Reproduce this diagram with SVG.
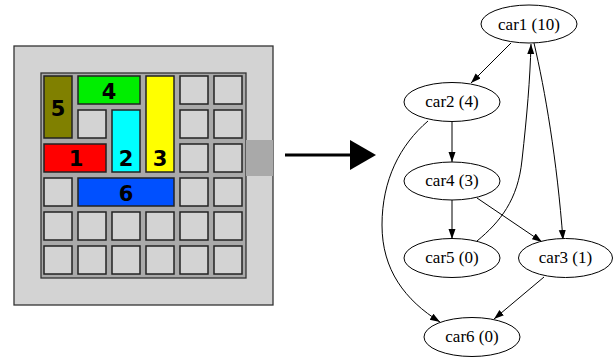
<svg xmlns="http://www.w3.org/2000/svg" width="613" height="358" viewBox="0 0 613 358">
  <style>
    .cell { fill: #d3d3d3; stroke: #222; stroke-width: 1.5; }
    .car { stroke: #222; stroke-width: 1.5; }
    .num { font-family: "DejaVu Sans", sans-serif; font-weight: bold; font-size: 21px; text-anchor: middle; fill: #000; }
    .node ellipse { fill: #fff; stroke: #000; stroke-width: 1; }
    .node text { font-family: "Liberation Serif", serif; font-size: 17px; text-anchor: middle; fill: #000; }
    .edge { fill: none; stroke: #000; stroke-width: 1; marker-end: url(#arr); }
  </style>
  <defs>
    <marker id="arr" markerUnits="userSpaceOnUse" markerWidth="11" markerHeight="8" refX="10" refY="3.5" orient="auto">
      <path d="M0,0 L10,3.5 L0,7 z" fill="#000"/>
    </marker>
  </defs>

  <!-- puzzle board -->
  <g id="board">
    <rect x="14" y="46" width="259" height="259" fill="#d3d3d3" stroke="#333" stroke-width="1.3"/>
    <rect x="41" y="73" width="205" height="205" fill="#a9a9a9" stroke="#333" stroke-width="1.3"/>
    <rect x="246" y="140" width="27" height="36" fill="#a9a9a9"/>
    <!-- empty cells -->
    <rect class="cell" x="180" y="76" width="28" height="28"/>
    <rect class="cell" x="214" y="76" width="28" height="28"/>
    <rect class="cell" x="78" y="110" width="28" height="28"/>
    <rect class="cell" x="180" y="110" width="28" height="28"/>
    <rect class="cell" x="214" y="110" width="28" height="28"/>
    <rect class="cell" x="180" y="144" width="28" height="28"/>
    <rect class="cell" x="214" y="144" width="28" height="28"/>
    <rect class="cell" x="44" y="178" width="28" height="28"/>
    <rect class="cell" x="180" y="178" width="28" height="28"/>
    <rect class="cell" x="214" y="178" width="28" height="28"/>
    <rect class="cell" x="44" y="212" width="28" height="28"/>
    <rect class="cell" x="78" y="212" width="28" height="28"/>
    <rect class="cell" x="112" y="212" width="28" height="28"/>
    <rect class="cell" x="146" y="212" width="28" height="28"/>
    <rect class="cell" x="180" y="212" width="28" height="28"/>
    <rect class="cell" x="214" y="212" width="28" height="28"/>
    <rect class="cell" x="44" y="246" width="28" height="28"/>
    <rect class="cell" x="78" y="246" width="28" height="28"/>
    <rect class="cell" x="112" y="246" width="28" height="28"/>
    <rect class="cell" x="146" y="246" width="28" height="28"/>
    <rect class="cell" x="180" y="246" width="28" height="28"/>
    <rect class="cell" x="214" y="246" width="28" height="28"/>
  </g>
  <g id="block5">
    <rect class="car" x="44" y="76" width="28" height="62" fill="#808000"/>
    <text class="num" x="58" y="116">5</text>
  </g>
  <g id="block4">
    <rect class="car" x="78" y="76" width="62" height="28" fill="#00ee00"/>
    <text class="num" x="109" y="99">4</text>
  </g>
  <g id="block2">
    <rect class="car" x="112" y="110" width="28" height="62" fill="#00ffff"/>
    <text class="num" x="126" y="166">2</text>
  </g>
  <g id="block3">
    <rect class="car" x="146" y="76" width="28" height="96" fill="#ffff00"/>
    <text class="num" x="160" y="166">3</text>
  </g>
  <g id="block1">
    <rect class="car" x="44" y="144" width="62" height="28" fill="#ff0000"/>
    <text class="num" x="76" y="166">1</text>
  </g>
  <g id="block6">
    <rect class="car" x="78" y="178" width="96" height="28" fill="#0050ff"/>
    <text class="num" x="126" y="201">6</text>
  </g>

  <!-- transition arrow -->
  <g id="transform-arrow">
    <line x1="285" y1="155" x2="352" y2="155" stroke="#000" stroke-width="3"/>
    <path d="M350,140 L376,155 L350,170 z" fill="#000"/>
  </g>

  <!-- dependency graph -->
  <g id="edges">
    <path class="edge" d="M511,43 L471,83"/>
    <path class="edge" d="M452,122 L452,162"/>
    <path class="edge" d="M477,241 C500,222 518,200 522,160 C527,115 530,80 531,44"/>
    <path class="edge" d="M534,43 C545,90 557,160 563,240"/>
    <path class="edge" d="M452,200 L452,239"/>
    <path class="edge" d="M477,198 L542,242"/>
    <path class="edge" d="M544,277 L494,319"/>
    <path class="edge" d="M428,121 C400,145 382,180 382,225 C382,270 405,300 440,322"/>
  </g>
  <g id="car1" class="node">
    <ellipse cx="529" cy="24" rx="48" ry="19"/>
    <text x="529" y="29.5">car1 (10)</text>
  </g>
  <g id="car2" class="node">
    <ellipse cx="452" cy="102" rx="48" ry="19.5"/>
    <text x="452" y="107">car2 (4)</text>
  </g>
  <g id="car4" class="node">
    <ellipse cx="452" cy="181" rx="48" ry="19"/>
    <text x="452" y="186">car4 (3)</text>
  </g>
  <g id="car5" class="node">
    <ellipse cx="452" cy="258" rx="48" ry="19.5"/>
    <text x="452" y="263">car5 (0)</text>
  </g>
  <g id="car3" class="node">
    <ellipse cx="565.5" cy="258" rx="47" ry="19.5"/>
    <text x="565.5" y="263">car3 (1)</text>
  </g>
  <g id="car6" class="node">
    <ellipse cx="472" cy="337" rx="48" ry="19.5"/>
    <text x="472" y="342">car6 (0)</text>
  </g>
</svg>
